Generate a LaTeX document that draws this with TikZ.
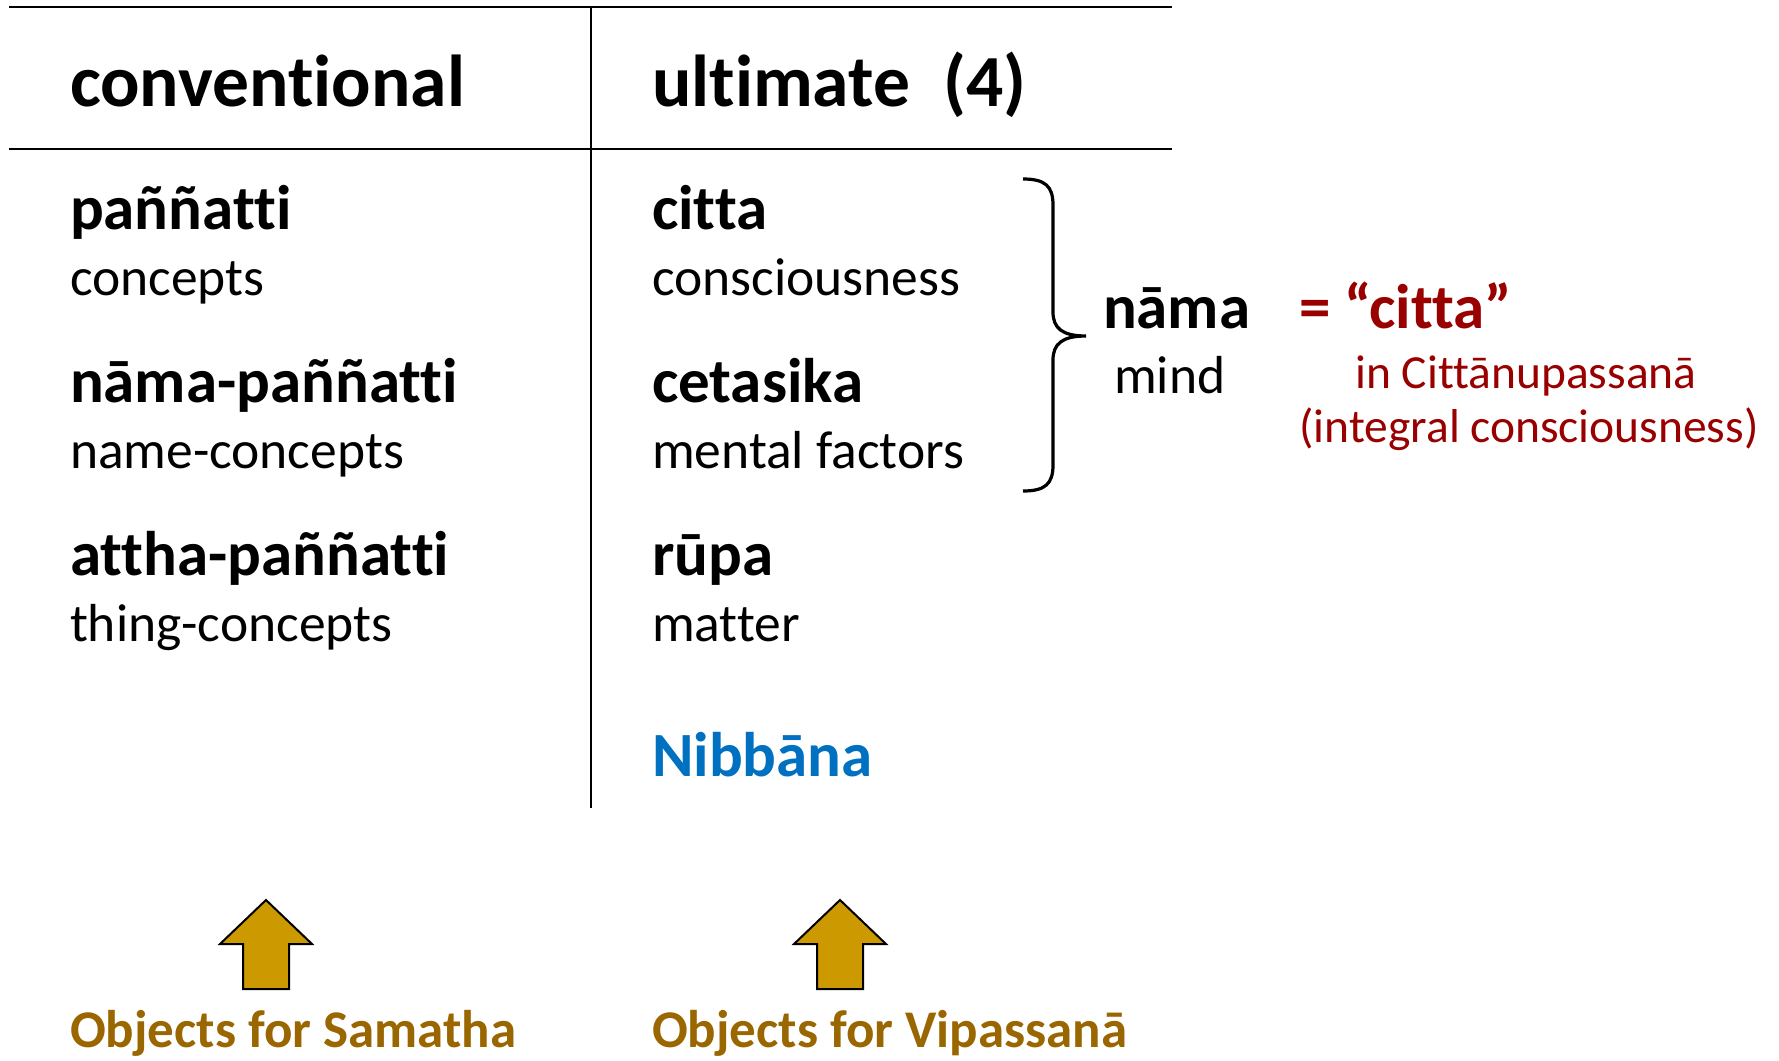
\documentclass[tikz,border=0pt]{standalone}
\usepackage{fontspec}
\setmainfont[Ligatures=NoCommon]{Carlito}
\definecolor{darkred}{RGB}{153,0,0}
\definecolor{nibblue}{RGB}{0,112,192}
\definecolor{goldfill}{RGB}{204,153,0}
\definecolor{goldtext}{RGB}{153,102,0}
\begin{document}
\begin{tikzpicture}[x=1pt,y=-1pt,
  every node/.style={inner sep=0pt, outer sep=0pt},
  hdr/.style={anchor=base west, font=\fontsize{73.5}{88}\selectfont\bfseries},
  item/.style={anchor=base west, font=\fontsize{63}{76}\selectfont\bfseries},
  sub/.style={anchor=base west, font=\fontsize{53.5}{65}\selectfont},
  redbig/.style={anchor=base west, text=darkred, font=\fontsize{63}{76}\selectfont\bfseries},
  redsmall/.style={anchor=base, text=darkred, font=\fontsize{47.5}{57}\selectfont},
  objtext/.style={anchor=base west, text=goldtext, font=\fontsize{53}{65}\selectfont\bfseries},
  rule/.style={line width=2.6pt},
  vrule/.style={line width=2pt},
  bigarrow/.style={draw=black, line width=2pt, fill=goldfill, line join=miter}
]
\useasboundingbox (0,0) rectangle (1779,1060);

% table rules
\coordinate (tl) at (9,7);
\coordinate (tr) at (1172,7);
\coordinate (ml) at (9,149);
\coordinate (mr) at (1172,149);
\coordinate (vt) at (591,7);
\coordinate (vb) at (591,808);
\draw[rule] (tl) -- (tr);
\draw[rule] (ml) -- (mr);
\draw[vrule] (vt) -- (vb);

% headers
\node[hdr] (conv) at (70,106) {conventional};
\node[hdr] (ult) at (652,106) {ultimate~~(4)};

% left column
\node[item] (pann) at (70,229) {paññatti};
\node[sub] (conc) at (70,295) {concepts};
\node[item] (namap) at (70,402) {nāma-paññatti};
\node[sub] (namec) at (70,468) {name-concepts};
\node[item] (atthap) at (70,575) {attha-paññatti};
\node[sub] (thingc) at (70,641) {thing-concepts};

% right column
\node[item] (citta) at (652,229) {citta};
\node[sub] (consc) at (652,295) {consciousness};
\node[item] (ceta) at (652,402) {cetasika};
\node[sub] (mentf) at (652,468) {mental factors};
\node[item] (rupa) at (652,575) {rūpa};
\node[sub] (matter) at (652,641) {matter};
\node[item, text=nibblue] (nibb) at (652,776) {Nibbāna};

% brace
\draw[line width=3.2pt] (1023,179) .. controls (1045,179) and (1053,186) .. (1053,205)
  -- (1053,312) .. controls (1053,328) and (1062,336) .. (1086,336)
  .. controls (1062,336) and (1053,344) .. (1053,360)
  -- (1053,465) .. controls (1053,484) and (1045,491) .. (1023,491);

\node[item] (nama) at (1103,328) {nāma};
\node[sub] (mind) at (1114,393) {mind};

\node[redbig] (eqcitta) at (1299,328) {= “citta”};
\node[redsmall] (inCitt) at (1526,388) {in Cittānupassanā};
\node[redsmall] (integ) at (1529,442) {(integral consciousness)};

% arrows
\draw[bigarrow] (266,900) -- (312,944) -- (289,944) -- (289,989) -- (243,989) -- (243,944) -- (220,944) -- cycle;
\draw[bigarrow] (840,900) -- (886,944) -- (863,944) -- (863,989) -- (817,989) -- (817,944) -- (794,944) -- cycle;

\node[objtext] (objsam) at (70,1047) {Objects for Samatha};
\node[objtext] (objvip) at (652,1047) {Objects for Vipassanā};
\end{tikzpicture}
\end{document}
